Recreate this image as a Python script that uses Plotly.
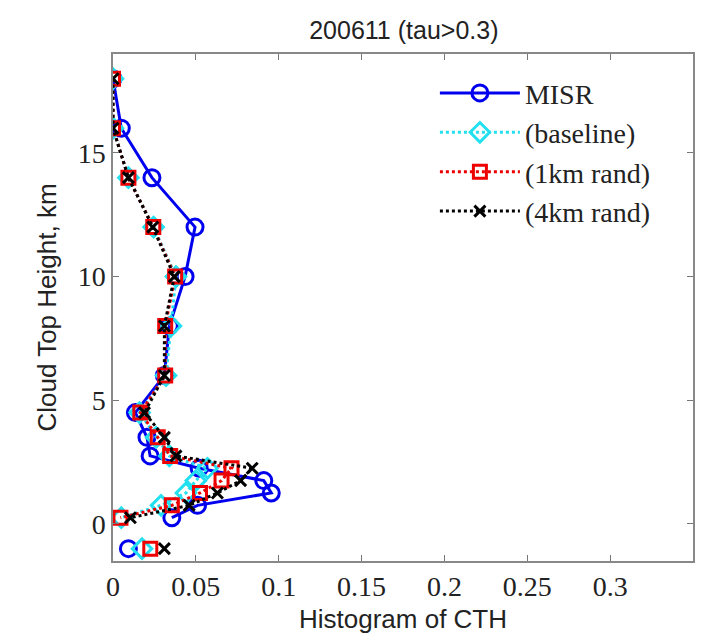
import plotly.graph_objects as go

# Cloud-top-height bins (km) and normalised histogram values per product
heights = [18, 16, 14, 12, 10, 8, 6, 4.5, 3.5, 2.75, 2.25, 1.75, 1.25, 0.75, 0.25]
misr = [0.0, 0.005, 0.0235, 0.0495, 0.0435, 0.034, 0.031, 0.0135, 0.0205, 0.0224, 0.052, 0.091, 0.0955, 0.051, 0.0355]
baseline = [0.0, 0.0, 0.0093, 0.0245, 0.038, 0.035, 0.032, 0.016, 0.026, 0.034, 0.057, 0.05, 0.044, 0.029, 0.005]
rand_1km = [0.0, 0.0, 0.0093, 0.0243, 0.0375, 0.0315, 0.0315, 0.0165, 0.027, 0.0345, 0.0715, 0.0655, 0.0525, 0.0355, 0.0045]
rand_4km = [0.0, 0.0, 0.0093, 0.024, 0.037, 0.031, 0.031, 0.019, 0.031, 0.038, 0.084, 0.077, 0.063, 0.046, 0.0105]

# Clear / no-retrieval bin plotted separately below the surface
clear_height = -1
clear_values = {"MISR": 0.0093, "(baseline)": 0.0175, "(1km rand)": 0.0225, "(4km rand)": 0.031}

x_ticks = [0, 0.05, 0.1, 0.15, 0.2, 0.25, 0.3]
y_ticks = [0, 5, 10, 15]

series = [
    ("MISR", misr, "#0000ee", "solid", "circle-open", 16),
    ("(baseline)", baseline, "#22e0f0", "dot", "diamond-open", 15),
    ("(1km rand)", rand_1km, "#ee0000", "dot", "square-open", 13),
    ("(4km rand)", rand_4km, "#000000", "dot", "x-thin-open", 11),
]

fig = go.Figure()
for name, vals, color, dash, symbol, size in series:
    fig.add_trace(go.Scatter(
        x=vals, y=heights, name=name, mode="lines+markers",
        legendgroup=name,
        line=dict(color=color, width=3, dash=dash),
        marker=dict(symbol=symbol, size=size, color=color,
                    line=dict(color=color, width=3)),
    ))
for name, vals, color, dash, symbol, size in series:
    fig.add_trace(go.Scatter(
        x=[clear_values[name]], y=[clear_height], mode="markers",
        showlegend=False, legendgroup=name,
        marker=dict(symbol=symbol, size=size, color=color,
                    line=dict(color=color, width=3)),
    ))

tick_font = dict(family="Liberation Serif", size=28, color="#222")
sans = "Liberation Sans"

fig.update_layout(
    width=706, height=640,
    margin=dict(l=113, r=11, t=54, b=78),
    paper_bgcolor="white", plot_bgcolor="white",
    title=dict(text="200611 (tau>0.3)", x=0.572, xanchor="center",
               y=0.953, yanchor="middle",
               font=dict(family=sans, size=25, color="#222")),
    xaxis=dict(range=[0, 0.35], tickvals=x_ticks, ticks="inside", ticklen=6,
               tickcolor="#777", showgrid=False, zeroline=False,
               showline=True, linecolor="#888", linewidth=1.5, mirror="ticks",
               tickfont=tick_font,
               title=dict(text="Histogram of CTH", standoff=8,
                          font=dict(family=sans, size=26, color="#222"))),
    yaxis=dict(range=[-1.5, 19], tickvals=y_ticks, ticks="inside", ticklen=6,
               tickcolor="#777", showgrid=False, zeroline=False,
               showline=True, linecolor="#888", linewidth=1.5, mirror="ticks",
               tickfont=tick_font,
               title=dict(text="Cloud Top Height, km", standoff=14,
                          font=dict(family=sans, size=26, color="#222"))),
    legend=dict(x=0.555, y=0.972, xanchor="left", yanchor="top",
                bgcolor="rgba(255,255,255,0)", borderwidth=0,
                traceorder="grouped", tracegroupgap=0, itemwidth=80,
                font=dict(family="Liberation Serif", size=28, color="#222")),
)

fig.write_html("out.html")
